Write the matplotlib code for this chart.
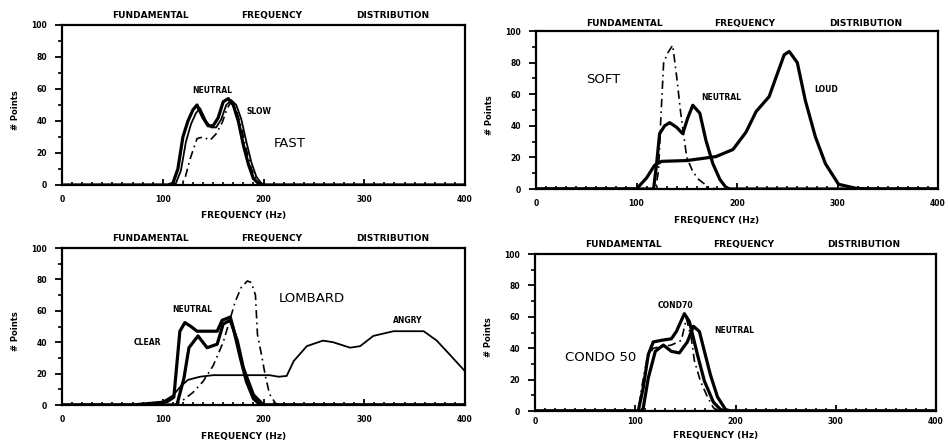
import matplotlib
matplotlib.use('Agg')
import matplotlib.pyplot as plt
from matplotlib.ticker import MultipleLocator

# ---- data (Hz, # points) ----
# top left: neutral / slow / fast
p1_neutral_x = [0, 105, 110, 115, 120, 125, 130, 134, 140, 145, 150, 155, 160, 165, 170, 175, 180, 185, 190, 195, 200, 400]
p1_neutral_y = [0, 0, 1, 10, 30, 40, 47, 50, 42, 37, 37, 42, 52, 54, 50, 40, 25, 13, 4, 1, 0, 0]
p1_slow_x = [0, 108, 113, 118, 123, 128, 133, 137, 143, 148, 153, 158, 163, 168, 173, 178, 183, 188, 193, 198, 203, 400]
p1_slow_y = [0, 0, 1, 9, 27, 38, 45, 48, 40, 36, 36, 41, 50, 53, 50, 41, 27, 14, 5, 1, 0, 0]
p1_fast_x = [0, 118, 122, 127, 134, 140, 147, 153, 159, 164, 168, 173, 178, 183, 188, 193, 198, 400]
p1_fast_y = [0, 0, 4, 16, 29, 30, 28, 32, 39, 48, 52, 47, 36, 22, 10, 3, 0, 0]

# top right: soft / neutral / loud
p2_neutral_x = [0, 117, 120, 123, 128, 133, 140, 146, 151, 156, 163, 169, 176, 183, 189, 193, 400]
p2_neutral_y = [0, 0, 16, 35, 40, 42, 39, 35, 45, 53, 48, 31, 16, 6, 1, 0, 0]
p2_loud_x = [0, 100, 110, 118, 125, 150, 179, 196, 209, 219, 232, 239, 247, 252, 260, 268, 278, 288, 301, 318, 330, 400]
p2_loud_y = [0, 0, 7, 15, 17.5, 18, 20.5, 25, 36, 49, 58.5, 71, 85, 87, 80, 56, 33, 16, 3, 0.5, 0, 0]
p2_soft_x = [0, 119, 122, 124, 127, 131, 136, 140, 144, 150, 156, 162, 172, 180, 400]
p2_soft_y = [0, 0, 12, 42, 80, 86, 91, 71, 48, 20, 11, 6, 1, 0, 0]

# bottom left: clear / neutral / lombard / angry
p3_neutral_x = [0, 70, 104, 111, 117, 122, 128, 134, 145, 154, 159, 167, 170, 177, 183, 190, 197, 400]
p3_neutral_y = [0, 0, 2, 5, 47, 52.5, 50, 47, 47, 47, 54, 56, 49, 30, 15, 4, 0, 0]
p3_clear_x = [0, 114, 121, 126, 135, 144, 154, 160, 167, 174, 180, 190, 200, 400]
p3_clear_y = [0, 0, 17, 36.5, 44, 36.5, 38.7, 51.6, 54, 41, 23.7, 6.5, 0, 0]
p3_lombard_x = [0, 112, 120, 130, 140, 150, 160, 167, 172, 178, 184, 188, 192, 194, 198, 202, 206, 212, 220, 400]
p3_lombard_y = [0, 0, 3, 8, 15, 25, 40, 55, 66, 75, 79, 78, 70, 45, 32, 18, 7, 1, 0, 0]
p3_angry_x = [0, 85, 100, 110, 118, 125, 137, 150, 206, 215, 223, 230, 243, 259, 269, 286, 296, 309, 329, 359, 372, 385, 400]
p3_angry_y = [0, 0, 2, 6, 12, 16, 18, 19, 19, 18, 18.5, 28, 37.5, 41, 40, 36.5, 37.5, 44, 47, 47, 41, 32, 21.5]

# bottom right: cond50 / cond70 / neutral
p4_cond70_x = [0, 103, 108, 113, 118, 126, 136, 141, 149, 154, 162, 169, 178, 185, 190, 400]
p4_cond70_y = [0, 0, 15, 36, 44, 45, 46, 50.6, 62, 57, 36, 19, 5.6, 1, 0, 0]
p4_neutral_x = [0, 106, 108, 113, 120, 128, 136, 144, 152, 158, 164, 169, 175, 182, 190, 195, 400]
p4_neutral_y = [0, 0, 2, 21, 38, 42, 38, 37, 44, 54, 50.6, 38, 23, 9, 1, 0, 0]
p4_cond50_x = [0, 103, 107, 112, 118, 136, 146, 151, 156, 159, 165, 172, 178, 184, 400]
p4_cond50_y = [0, 0, 17, 34, 40, 42, 45, 59, 46, 32, 19, 9, 2, 0, 0]

xticks = [0, 100, 200, 300, 400]
yticks = [0, 20, 40, 60, 80, 100]
title_words = ['FUNDAMENTAL', 'FREQUENCY', 'DISTRIBUTION']

W, H = 948, 444
fig = plt.figure(figsize=(W / 100, H / 100), dpi=100)

# axes boxes in pixels: left, right, y of value 0, y of value 100
boxes = [(62, 465, 185, 25), (536, 938, 189, 31), (62, 465, 405, 248), (535, 936, 411, 254)]


def make_axes(box, title_y, xpad, xlab_y):
    l, r, y0, y100 = box
    ax = fig.add_axes([l / W, (H - y0) / H, (r - l) / W, (y0 - y100) / H])
    ax.set_xlim(0, 400)
    ax.set_ylim(0, 100)
    ax.set_xticks(xticks)
    ax.set_yticks(yticks)
    ax.xaxis.set_minor_locator(MultipleLocator(10))
    ax.yaxis.set_minor_locator(MultipleLocator(10))
    ax.tick_params(axis='y', which='major', direction='out', length=5, width=1.3, pad=6,
                   labelsize=5.5)
    ax.tick_params(axis='y', which='minor', direction='out', length=3, width=1.2)
    ax.tick_params(axis='x', which='major', direction='in', length=4, width=1.3, pad=xpad,
                   labelsize=5.5)
    ax.tick_params(axis='x', which='minor', direction='in', length=2.5, width=1.2)
    for lab in ax.get_xticklabels() + ax.get_yticklabels():
        lab.set_fontweight('bold')
    for s in ax.spines.values():
        s.set_linewidth(1.6)
    ax.set_xlabel('FREQUENCY (Hz)', fontsize=6.5, fontweight='bold')
    ax.xaxis.set_label_coords(0.45, xlab_y)
    ax.set_ylabel('# Points', fontsize=6, fontweight='bold')
    ax.yaxis.set_label_coords(-0.105, 0.47)
    for xf, w in zip([0.22, 0.52, 0.82], title_words):
        ax.text(xf, title_y, w, transform=ax.transAxes, ha='center', va='bottom',
                fontsize=6.5, fontweight='bold')
    return ax


thick = dict(color='black', lw=2.3)
thin = dict(color='black', lw=1.3)
dashdot = dict(color='black', lw=1.2, linestyle=(0, (5, 2.5, 1, 2.5)))
small = dict(fontsize=5.5, fontweight='bold')
big = dict(fontsize=9.5)

# top left
ax = make_axes(boxes[0], 1.03, 7, -0.16)
ax.plot(p1_neutral_x, p1_neutral_y, **thick)
ax.plot(p1_slow_x, p1_slow_y, **thin)
ax.plot(p1_fast_x, p1_fast_y, **dashdot)
ax.text(149, 59, 'NEUTRAL', ha='center', va='center', **small)
ax.text(195, 46, 'SLOW', ha='center', va='center', **small)
ax.text(226, 26, 'FAST', ha='center', va='center', **big)

# top right
ax = make_axes(boxes[1], 1.02, 7, -0.17)
ax.plot(p2_neutral_x, p2_neutral_y, **thick)
ax.plot(p2_loud_x, p2_loud_y, **thick)
ax.plot(p2_soft_x, p2_soft_y, **dashdot)
ax.text(67, 69, 'SOFT', ha='center', va='center', **big)
ax.text(184, 58, 'NEUTRAL', ha='center', va='center', **small)
ax.text(289, 63, 'LOUD', ha='center', va='center', **small)

# bottom left
ax = make_axes(boxes[2], 1.03, 7, -0.17)
ax.plot(p3_neutral_x, p3_neutral_y, **thick)
ax.plot(p3_clear_x, p3_clear_y, **thick)
ax.plot(p3_lombard_x, p3_lombard_y, **dashdot)
ax.plot(p3_angry_x, p3_angry_y, **thin)
ax.text(129, 61, 'NEUTRAL', ha='center', va='center', **small)
ax.text(85, 40, 'CLEAR', ha='center', va='center', **small)
ax.text(248, 68, 'LOMBARD', ha='center', va='center', **big)
ax.text(343, 54, 'ANGRY', ha='center', va='center', **small)

# bottom right
ax = make_axes(boxes[3], 1.03, 4, -0.13)
ax.plot(p4_cond70_x, p4_cond70_y, **thick)
ax.plot(p4_neutral_x, p4_neutral_y, **thick)
ax.plot(p4_cond50_x, p4_cond50_y, **dashdot)
ax.text(140, 67, 'COND70', ha='center', va='center', **small)
ax.text(199, 51, 'NEUTRAL', ha='center', va='center', **small)
ax.text(65, 34, 'CONDO 50', ha='center', va='center', **big)

fig.savefig('out.png', dpi=100)
